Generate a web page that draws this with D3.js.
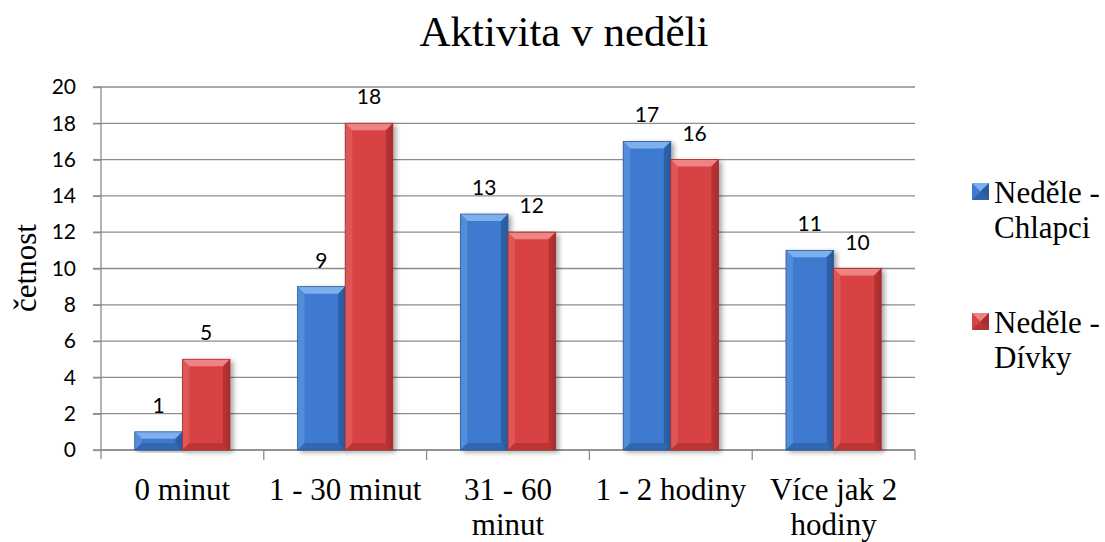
<!DOCTYPE html>
<html>
<head>
<meta charset="utf-8">
<script src="https://cdn.jsdelivr.net/npm/d3@7"></script>
<style>
  html, body { margin: 0; padding: 0; background: #fff; }
  svg { display: block; }
</style>
</head>
<body>
<div id="chart"></div>
<script>
// Data
const categories = ["0 minut", "1 - 30 minut", "31 - 60 minut", "1 - 2 hodiny", "Více jak 2 hodiny"];
const categoryLines = [["0 minut"], ["1 - 30 minut"], ["31 - 60", "minut"], ["1 - 2 hodiny"], ["Více jak 2", "hodiny"]];
const seriesNames = ["Neděle - Chlapci", "Neděle - Dívky"];
const legendLines = [["Neděle -", "Chlapci"], ["Neděle -", "Dívky"]];
const boys = [1, 9, 13, 17, 11];
const girls = [5, 18, 12, 16, 10];
const yTicks = [0, 2, 4, 6, 8, 10, 12, 14, 16, 18, 20];

const W = 1105, H = 542;
const margin = { left: 101, right: 190, top: 87, bottom: 92 };
const serif = "'Liberation Serif', 'Times New Roman', serif";
const sans = "Lato, 'Open Sans', sans-serif";
const axisColor = "#8c8c8c";

const palette = [
  { light: "#6a9de0", mid: "#3d7ad0", dark: "#2a5a9e", top: "#7fb0ee" },
  { light: "#e66a6a", mid: "#d84343", dark: "#a82d2d", top: "#ee8383" }
];

const svg = d3.select("#chart").append("svg").attr("width", W).attr("height", H);
const defs = svg.append("defs");
palette.forEach((p, i) => {
  const g = defs.append("linearGradient").attr("id", "body" + i)
    .attr("x1", "0").attr("x2", "1").attr("y1", "0").attr("y2", "0");
  g.append("stop").attr("offset", "0").attr("stop-color", p.mid);
  g.append("stop").attr("offset", "0.88").attr("stop-color", p.mid);
  g.append("stop").attr("offset", "1").attr("stop-color", p.dark);
});
const shadow = defs.append("filter").attr("id", "shadow").attr("x", "-20%").attr("y", "-5%").attr("width", "150%").attr("height", "120%");
shadow.append("feGaussianBlur").attr("in", "SourceAlpha").attr("stdDeviation", 2.5);
shadow.append("feOffset").attr("dx", 3).attr("dy", 2).attr("result", "b");
shadow.append("feComponentTransfer").append("feFuncA").attr("type", "linear").attr("slope", 0.35);
const merge = shadow.append("feMerge");
merge.append("feMergeNode");
merge.append("feMergeNode").attr("in", "SourceGraphic");

const x0 = d3.scaleBand().domain(categories).range([margin.left, W - margin.right]).paddingInner(0).paddingOuter(0);
const x1 = d3.scaleBand().domain([0, 1]).range([0, x0.bandwidth()]).paddingInner(0).paddingOuter(0.71);
const y = d3.scaleLinear().domain([0, 20]).range([H - margin.bottom, margin.top]);

// Gridlines
svg.append("g").selectAll("line").data(yTicks).join("line")
  .attr("x1", margin.left - 8).attr("x2", W - margin.right)
  .attr("y1", d => y(d)).attr("y2", d => y(d))
  .attr("stroke", axisColor).attr("stroke-width", 1.3);

// Y axis
const yAxis = svg.append("g").attr("transform", `translate(${margin.left},0)`)
  .call(d3.axisLeft(y).tickValues(yTicks).tickSize(8).tickPadding(17));
yAxis.select(".domain").attr("stroke", axisColor).attr("stroke-width", 1.3)
  .attr("d", `M0,${margin.top}V${y(0) + 9}`);
yAxis.selectAll(".tick line").attr("stroke", axisColor).attr("stroke-width", 1.3);
yAxis.selectAll("text").attr("font-family", sans).attr("font-size", 21).attr("fill", "#000");

// X axis
const xTickPos = categories.map(c => x0(c)).concat([x0.range()[1]]);
const xAxis = svg.append("g");
xAxis.append("line").attr("x1", margin.left).attr("x2", W - margin.right)
  .attr("y1", y(0)).attr("y2", y(0)).attr("stroke", axisColor).attr("stroke-width", 1.3);
xAxis.selectAll("line.tk").data(xTickPos.slice(1)).join("line").attr("class", "tk")
  .attr("x1", d => d).attr("x2", d => d).attr("y1", y(0)).attr("y2", y(0) + 10)
  .attr("stroke", axisColor).attr("stroke-width", 1.3);
const xl = xAxis.selectAll("text").data(categories).join("text")
  .attr("x", d => x0(d) + x0.bandwidth() / 2)
  .attr("y", 500)
  .attr("text-anchor", "middle").attr("font-family", serif).attr("font-size", 31).attr("fill", "#000");
xl.each(function (d, i) {
  d3.select(this).selectAll("tspan").data(categoryLines[i]).join("tspan")
    .attr("x", x0(d) + x0.bandwidth() / 2).attr("dy", (t, j) => j === 0 ? 0 : 35).text(t => t);
});

// Bars
const seriesData = [boys, girls];
const bevel = 7;
seriesData.forEach((vals, s) => {
  const p = palette[s];
  const g = svg.append("g").attr("class", "series" + s);
  vals.forEach((v, i) => {
    const bx = x0(categories[i]) + x1(s);
    const bw = x1.bandwidth();
    const top = y(v), bottom = y(0);
    const h = bottom - top;
    const bv = Math.min(bevel, h / 2, bw / 2);
    const bar = g.append("g").attr("filter", "url(#shadow)");
    bar.append("rect").attr("x", bx).attr("y", top).attr("width", bw).attr("height", h)
      .attr("fill", `url(#body${s})`);
    // bevelled top edge
    bar.append("path").attr("d", `M${bx},${top}L${bx + bw},${top}L${bx + bw - bv},${top + bv}L${bx + bv},${top + bv}Z`)
      .attr("fill", p.top);
    // left edge
    bar.append("path").attr("d", `M${bx},${top}L${bx + bv},${top + bv}L${bx + bv},${bottom - bv}L${bx},${bottom}Z`)
      .attr("fill", p.light).attr("opacity", 0.5);
    // right edge
    bar.append("path").attr("d", `M${bx + bw},${top}L${bx + bw - bv},${top + bv}L${bx + bw - bv},${bottom - bv}L${bx + bw},${bottom}Z`)
      .attr("fill", p.dark).attr("opacity", 0.75);
    // bottom edge
    bar.append("path").attr("d", `M${bx},${bottom}L${bx + bv},${bottom - bv}L${bx + bw - bv},${bottom - bv}L${bx + bw},${bottom}Z`)
      .attr("fill", p.dark).attr("opacity", 0.6);
    bar.append("rect").attr("x", bx).attr("y", top).attr("width", bw).attr("height", h)
      .attr("fill", "none").attr("stroke", p.dark).attr("stroke-width", 0.8);
    // value label
    g.append("text").attr("x", bx + bw / 2).attr("y", top - 19)
      .attr("text-anchor", "middle").attr("font-family", sans).attr("font-size", 21).attr("fill", "#000")
      .text(v);
  });
});

// Title
svg.append("text").attr("x", 564).attr("y", 46).attr("text-anchor", "middle")
  .attr("font-family", serif).attr("font-size", 43).attr("fill", "#000").text("Aktivita v neděli");

// Y axis title
svg.append("text").attr("transform", `translate(36,268) rotate(-90)`).attr("text-anchor", "middle")
  .attr("font-family", serif).attr("font-size", 31).attr("fill", "#000").text("četnost");

// Legend
const legendBase = [203, 333];
seriesNames.forEach((name, s) => {
  const p = palette[s];
  const lg = svg.append("g").attr("class", "legend");
  const sz = 17, lx = 972, ly = legendBase[s] - 20;
  lg.append("rect").attr("x", lx).attr("y", ly).attr("width", sz).attr("height", sz).attr("fill", p.mid);
  lg.append("path").attr("d", `M${lx},${ly}L${lx + sz},${ly}L${lx + sz / 2},${ly + sz / 2}Z`).attr("fill", p.top);
  lg.append("path").attr("d", `M${lx + sz},${ly}L${lx + sz},${ly + sz}L${lx + sz / 2},${ly + sz / 2}Z`).attr("fill", p.dark);
  lg.append("path").attr("d", `M${lx},${ly + sz}L${lx + sz},${ly + sz}L${lx + sz / 2},${ly + sz / 2}Z`).attr("fill", p.dark).attr("opacity", 0.7);
  const t = lg.append("text").attr("x", 994).attr("y", legendBase[s])
    .attr("font-family", serif).attr("font-size", 31).attr("fill", "#000");
  t.selectAll("tspan").data(legendLines[s]).join("tspan")
    .attr("x", 994).attr("dy", (d, j) => j === 0 ? 0 : 35).text(d => d);
});
</script>
</body>
</html>
